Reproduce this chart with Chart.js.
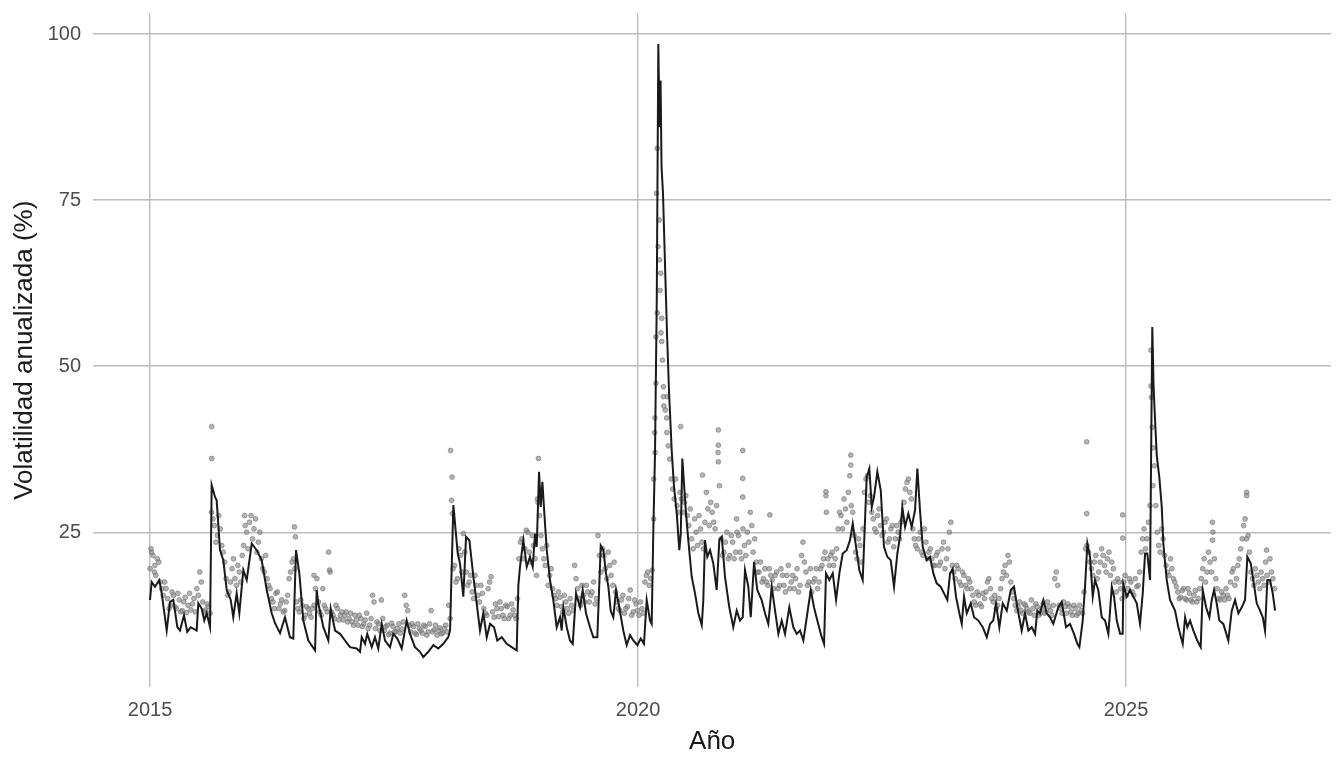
<!DOCTYPE html>
<html>
<head>
<meta charset="utf-8">
<script src="https://cdn.jsdelivr.net/npm/chart.js@4"></script>
<style>
  html, body { margin: 0; padding: 0; background: #ffffff; }
  canvas { display: block; }
</style>
</head>
<body>
<canvas id="volChart" width="1344" height="768"></canvas>
<script>
// line: realised volatility (decimal years and %)
const lineYears = [
  2015.000, 2015.017, 2015.051, 2015.095, 2015.120, 2015.171, 2015.205, 2015.239, 2015.280, 2015.307,
  2015.348, 2015.382, 2015.417, 2015.478, 2015.495, 2015.530, 2015.556, 2015.581, 2015.615, 2015.632,
  2015.666, 2015.683, 2015.717, 2015.751, 2015.786, 2015.827, 2015.853, 2015.888, 2015.915, 2015.956,
  2015.991, 2016.042, 2016.093, 2016.144, 2016.196, 2016.247, 2016.281, 2016.332, 2016.383, 2016.434,
  2016.468, 2016.496, 2016.530, 2016.571, 2016.622, 2016.691, 2016.708, 2016.724, 2016.776, 2016.827,
  2016.851, 2016.896, 2016.947, 2016.998, 2017.049, 2017.118, 2017.152, 2017.169, 2017.203, 2017.226,
  2017.272, 2017.305, 2017.339, 2017.374, 2017.408, 2017.459, 2017.493, 2017.534, 2017.579, 2017.630,
  2017.664, 2017.715, 2017.766, 2017.800, 2017.851, 2017.903, 2017.954, 2018.005, 2018.056, 2018.074,
  2018.108, 2018.125, 2018.153, 2018.176, 2018.210, 2018.238, 2018.272, 2018.313, 2018.347, 2018.381,
  2018.415, 2018.450, 2018.484, 2018.525, 2018.558, 2018.604, 2018.655, 2018.706, 2018.757, 2018.774,
  2018.791, 2018.825, 2018.860, 2018.893, 2018.921, 2018.945, 2018.962, 2018.986, 2019.003, 2019.020,
  2019.047, 2019.065, 2019.098, 2019.132, 2019.167, 2019.201, 2019.218, 2019.235, 2019.270, 2019.303,
  2019.331, 2019.365, 2019.406, 2019.433, 2019.467, 2019.508, 2019.542, 2019.583, 2019.618, 2019.645,
  2019.672, 2019.696, 2019.720, 2019.747, 2019.775, 2019.808, 2019.849, 2019.884, 2019.918, 2019.952,
  2019.993, 2020.028, 2020.061, 2020.089, 2020.123, 2020.140, 2020.157, 2020.174, 2020.192, 2020.208,
  2020.220, 2020.231, 2020.241, 2020.256, 2020.277, 2020.297, 2020.318, 2020.328, 2020.345, 2020.369,
  2020.397, 2020.423, 2020.438, 2020.454, 2020.471, 2020.492, 2020.515, 2020.550, 2020.584, 2020.618,
  2020.653, 2020.669, 2020.686, 2020.710, 2020.738, 2020.771, 2020.806, 2020.833, 2020.858, 2020.891,
  2020.935, 2020.976, 2021.011, 2021.045, 2021.073, 2021.096, 2021.130, 2021.155, 2021.189, 2021.222,
  2021.267, 2021.301, 2021.335, 2021.370, 2021.404, 2021.438, 2021.472, 2021.506, 2021.550, 2021.591,
  2021.626, 2021.660, 2021.694, 2021.735, 2021.770, 2021.803, 2021.837, 2021.882, 2021.906, 2021.926,
  2021.960, 2021.995, 2022.029, 2022.063, 2022.097, 2022.138, 2022.172, 2022.200, 2022.234, 2022.267,
  2022.302, 2022.343, 2022.370, 2022.395, 2022.418, 2022.452, 2022.487, 2022.520, 2022.554, 2022.589,
  2022.623, 2022.657, 2022.684, 2022.708, 2022.736, 2022.770, 2022.804, 2022.838, 2022.862, 2022.889,
  2022.917, 2022.958, 2022.992, 2023.026, 2023.060, 2023.101, 2023.135, 2023.169, 2023.197, 2023.224,
  2023.258, 2023.292, 2023.317, 2023.340, 2023.368, 2023.409, 2023.443, 2023.487, 2023.532, 2023.573,
  2023.607, 2023.640, 2023.668, 2023.702, 2023.737, 2023.778, 2023.819, 2023.852, 2023.886, 2023.931,
  2023.965, 2023.999, 2024.034, 2024.068, 2024.091, 2024.119, 2024.153, 2024.188, 2024.221, 2024.255,
  2024.306, 2024.341, 2024.385, 2024.426, 2024.467, 2024.501, 2024.522, 2024.556, 2024.580, 2024.604,
  2024.631, 2024.659, 2024.682, 2024.716, 2024.751, 2024.785, 2024.819, 2024.854, 2024.877, 2024.905,
  2024.939, 2024.966, 2024.972, 2025.007, 2025.041, 2025.075, 2025.110, 2025.143, 2025.171, 2025.195,
  2025.218, 2025.246, 2025.256, 2025.269, 2025.282, 2025.297, 2025.315, 2025.341, 2025.366, 2025.382,
  2025.417, 2025.451, 2025.502, 2025.536, 2025.581, 2025.605, 2025.628, 2025.656, 2025.690, 2025.730,
  2025.765, 2025.786, 2025.820, 2025.854, 2025.878, 2025.902, 2025.929, 2025.956, 2025.997, 2026.048,
  2026.083, 2026.117, 2026.151, 2026.186, 2026.219, 2026.243, 2026.278, 2026.304, 2026.339, 2026.373,
  2026.401, 2026.424, 2026.448, 2026.475, 2026.503, 2026.527
];
const lineVols = [
  14.8, 17.5, 16.8, 17.8, 15.8, 10.2, 14.5, 14.8, 10.7, 10.2,
  12.5, 10.0, 10.7, 10.2, 14.3, 13.5, 11.7, 12.8, 10.7, 32.1,
  30.3, 29.8, 22.3, 20.8, 16.3, 14.8, 12.2, 15.8, 12.8, 19.3,
  17.8, 23.3, 22.3, 20.8, 16.3, 12.8, 11.3, 9.8, 12.2, 9.2,
  9.0, 22.3, 18.8, 11.7, 8.7, 7.2, 16.3, 14.3, 10.7, 8.7,
  13.5, 10.2, 9.7, 8.7, 7.7, 7.5, 7.0, 9.2, 8.2, 9.7,
  7.7, 9.2, 7.5, 11.2, 8.7, 7.7, 9.7, 9.0, 7.5, 11.7,
  9.7, 7.7, 7.0, 6.2, 7.0, 8.0, 7.5, 8.2, 9.2, 10.2,
  29.1, 26.3, 21.8, 20.3, 15.3, 24.3, 23.8, 18.3, 14.3, 10.2,
  12.8, 9.2, 11.2, 10.7, 8.7, 9.2, 8.2, 7.7, 7.2, 17.0,
  19.8, 23.8, 19.8, 21.3, 19.8, 24.8, 22.8, 34.1, 28.8, 32.6,
  26.3, 22.3, 17.8, 14.8, 10.7, 12.2, 10.2, 13.7, 10.7, 8.7,
  8.2, 15.8, 13.7, 16.3, 12.8, 10.7, 9.2, 9.2, 23.0, 22.3,
  18.8, 16.8, 13.2, 12.2, 16.3, 13.7, 10.2, 8.0, 9.5, 8.7,
  8.0, 9.0, 8.2, 14.8, 11.7, 11.2, 25.3, 36.8, 60.0, 98.5,
  86.0, 93.0, 80.0, 76.0, 65.0, 55.0, 46.0, 42.9, 37.3, 31.8,
  27.8, 22.3, 24.8, 36.1, 32.3, 27.8, 23.8, 18.3, 15.8, 12.8,
  11.0, 14.8, 23.8, 21.3, 22.3, 20.3, 16.3, 23.8, 24.3, 18.3,
  13.7, 10.7, 13.2, 11.7, 12.2, 19.3, 16.8, 12.2, 20.5, 16.3,
  14.8, 12.8, 11.2, 16.8, 13.2, 9.7, 11.7, 9.7, 13.7, 10.7,
  9.7, 10.2, 8.7, 12.8, 16.3, 13.7, 11.7, 9.2, 8.2, 18.8,
  17.8, 18.8, 14.8, 18.8, 21.8, 22.3, 23.8, 26.3, 22.8, 19.3,
  17.8, 33.3, 34.6, 28.8, 30.3, 34.1, 31.3, 22.8, 21.3, 20.8,
  16.8, 21.8, 24.3, 28.8, 25.8, 27.8, 25.8, 28.3, 34.6, 28.3,
  22.8, 20.8, 21.3, 18.8, 17.3, 16.8, 15.8, 14.8, 18.8, 19.5,
  15.3, 12.8, 11.2, 15.3, 12.8, 14.3, 12.2, 11.7, 10.7, 9.2,
  11.2, 11.7, 14.3, 10.7, 14.3, 13.2, 16.3, 16.8, 13.7, 10.2,
  12.8, 10.2, 10.7, 9.7, 13.2, 12.8, 14.8, 12.8, 12.2, 11.2,
  13.7, 14.5, 10.7, 11.2, 9.7, 8.2, 7.7, 11.7, 16.8, 23.3,
  21.3, 15.3, 17.8, 16.3, 12.2, 11.7, 9.7, 16.8, 15.3, 11.7,
  9.7, 9.7, 17.2, 15.3, 16.3, 15.3, 14.3, 11.2, 15.8, 21.8,
  21.8, 17.8, 35.0, 55.9, 47.0, 42.0, 36.5, 33.3, 28.8, 23.3,
  17.8, 14.8, 13.2, 10.7, 8.2, 12.2, 10.7, 11.7, 10.2, 8.7,
  7.7, 16.3, 13.7, 12.2, 14.8, 16.3, 14.3, 11.7, 11.2, 8.7,
  13.2, 14.8, 12.8, 13.7, 14.8, 21.3, 20.3, 17.8, 14.3, 13.2,
  12.2, 10.2, 17.8, 17.8, 15.8, 13.2
];

// points: implied volatility, first reading of the band
const dotYears = [
  2015.00, 2015.03, 2015.06, 2015.09, 2015.12, 2015.15, 2015.18, 2015.21, 2015.24, 2015.27,
  2015.30, 2015.33, 2015.36, 2015.39, 2015.42, 2015.45, 2015.48, 2015.51, 2015.54, 2015.57,
  2015.60, 2015.63, 2015.66, 2015.69, 2015.72, 2015.75, 2015.78, 2015.81, 2015.84, 2015.87,
  2015.90, 2015.93, 2015.96, 2015.99, 2016.02, 2016.05, 2016.08, 2016.11, 2016.14, 2016.17,
  2016.20, 2016.23, 2016.26, 2016.29, 2016.32, 2016.35, 2016.38, 2016.41, 2016.44, 2016.47,
  2016.50, 2016.53, 2016.56, 2016.59, 2016.62, 2016.65, 2016.68, 2016.71, 2016.74, 2016.77,
  2016.80, 2016.83, 2016.86, 2016.89, 2016.92, 2016.95, 2016.98, 2017.01, 2017.04, 2017.07,
  2017.10, 2017.13, 2017.16, 2017.19, 2017.22, 2017.25, 2017.28, 2017.31, 2017.34, 2017.37,
  2017.40, 2017.43, 2017.46, 2017.49, 2017.52, 2017.55, 2017.58, 2017.61, 2017.64, 2017.67,
  2017.70, 2017.73, 2017.76, 2017.79, 2017.82, 2017.85, 2017.88, 2017.91, 2017.94, 2017.97,
  2018.00, 2018.03, 2018.06, 2018.09, 2018.12, 2018.15, 2018.18, 2018.21, 2018.24, 2018.27,
  2018.30, 2018.33, 2018.36, 2018.39, 2018.42, 2018.45, 2018.48, 2018.51, 2018.54, 2018.57,
  2018.60, 2018.63, 2018.66, 2018.69, 2018.72, 2018.75, 2018.78, 2018.81, 2018.84, 2018.87,
  2018.90, 2018.93, 2018.96, 2018.99, 2019.02, 2019.05, 2019.08, 2019.11, 2019.14, 2019.17,
  2019.20, 2019.23, 2019.26, 2019.29, 2019.32, 2019.35, 2019.38, 2019.41, 2019.44, 2019.47,
  2019.50, 2019.53, 2019.56, 2019.59, 2019.62, 2019.65, 2019.68, 2019.71, 2019.74, 2019.77,
  2019.80, 2019.83, 2019.86, 2019.89, 2019.92, 2019.95, 2019.98, 2020.01, 2020.04, 2020.07,
  2020.10, 2020.13, 2020.16, 2020.19, 2020.22, 2020.25, 2020.28, 2020.31, 2020.34, 2020.37,
  2020.40, 2020.43, 2020.46, 2020.49, 2020.52, 2020.55, 2020.58, 2020.61, 2020.64, 2020.67,
  2020.70, 2020.73, 2020.76, 2020.79, 2020.82, 2020.85, 2020.88, 2020.91, 2020.94, 2020.97,
  2021.00, 2021.03, 2021.06, 2021.09, 2021.12, 2021.15, 2021.18, 2021.21, 2021.24, 2021.27,
  2021.30, 2021.33, 2021.36, 2021.39, 2021.42, 2021.45, 2021.48, 2021.51, 2021.54, 2021.57,
  2021.60, 2021.63, 2021.66, 2021.69, 2021.72, 2021.75, 2021.78, 2021.81, 2021.84, 2021.87,
  2021.90, 2021.93, 2021.96, 2021.99, 2022.02, 2022.05, 2022.08, 2022.11, 2022.14, 2022.17,
  2022.20, 2022.23, 2022.26, 2022.29, 2022.32, 2022.35, 2022.38, 2022.41, 2022.44, 2022.47,
  2022.50, 2022.53, 2022.56, 2022.59, 2022.62, 2022.65, 2022.68, 2022.71, 2022.74, 2022.77,
  2022.80, 2022.83, 2022.86, 2022.89, 2022.92, 2022.95, 2022.98, 2023.01, 2023.04, 2023.07,
  2023.10, 2023.13, 2023.16, 2023.19, 2023.22, 2023.25, 2023.28, 2023.31, 2023.34, 2023.37,
  2023.40, 2023.43, 2023.46, 2023.49, 2023.52, 2023.55, 2023.58, 2023.61, 2023.64, 2023.67,
  2023.70, 2023.73, 2023.76, 2023.79, 2023.82, 2023.85, 2023.88, 2023.91, 2023.94, 2023.97,
  2024.00, 2024.03, 2024.06, 2024.09, 2024.12, 2024.15, 2024.18, 2024.21, 2024.24, 2024.27,
  2024.30, 2024.33, 2024.36, 2024.39, 2024.42, 2024.45, 2024.48, 2024.51, 2024.54, 2024.57,
  2024.60, 2024.63, 2024.66, 2024.69, 2024.72, 2024.75, 2024.78, 2024.81, 2024.84, 2024.87,
  2024.90, 2024.93, 2024.96, 2024.99, 2025.02, 2025.05, 2025.08, 2025.11, 2025.14, 2025.17,
  2025.20, 2025.23, 2025.26, 2025.29, 2025.32, 2025.35, 2025.38, 2025.41, 2025.44, 2025.47,
  2025.50, 2025.53, 2025.56, 2025.59, 2025.62, 2025.65, 2025.68, 2025.71, 2025.74, 2025.77,
  2025.80, 2025.83, 2025.86, 2025.89, 2025.92, 2025.95, 2025.98, 2026.01, 2026.04, 2026.07,
  2026.10, 2026.13, 2026.16, 2026.19, 2026.22, 2026.25, 2026.28, 2026.31, 2026.34, 2026.37,
  2026.40, 2026.43, 2026.46, 2026.49, 2026.52
];
const dotVols = [
  19.5, 21.5, 18.5, 20.5, 16.5, 17.5, 15.0, 14.0, 15.5, 13.5,
  14.8, 13.2, 15.2, 14.0, 13.3, 15.0, 16.5, 19.0, 14.5, 13.3,
  13.8, 28.0, 26.0, 24.5, 25.5, 22.0, 18.0, 16.0, 19.5, 18.0,
  20.0, 17.5, 23.0, 25.0, 26.5, 24.0, 27.0, 23.5, 21.0, 19.0,
  18.0, 16.5, 14.5, 15.8, 13.5, 14.8, 13.2, 15.5, 19.0, 21.0,
  14.5, 13.0, 14.0, 12.5, 13.5, 12.2, 14.0, 18.0, 13.0, 16.5,
  13.5, 22.0, 13.0, 12.0, 13.5, 12.5, 11.8, 13.0, 12.0, 11.5,
  12.5, 11.0, 12.0, 11.2, 12.8, 11.0, 15.5, 10.5, 11.2, 14.8,
  10.2, 11.0, 9.8, 10.8, 10.0, 11.2, 10.4, 15.5, 13.2, 10.0,
  10.8, 9.6, 10.5, 9.8, 10.8, 10.0, 13.2, 10.3, 9.5, 10.6,
  9.8, 11.0, 14.0, 29.8, 20.0, 18.0, 21.5, 24.8, 19.0, 17.5,
  16.0, 18.5, 15.5, 17.0, 13.5, 12.5, 17.5, 13.0, 14.2, 12.3,
  13.5, 12.0, 13.8, 12.5, 13.3, 12.0, 21.0, 24.0, 22.5, 25.0,
  20.5, 23.0, 18.5, 27.5, 22.5, 20.0, 17.0, 19.5, 15.5, 14.0,
  15.2, 13.0, 14.5, 12.8, 14.0, 20.0, 16.5, 14.0, 15.5, 17.0,
  14.5, 16.0, 14.2, 24.5, 19.0, 21.5, 18.0, 20.0, 17.0, 16.0,
  13.5, 14.8, 12.8, 13.8, 16.3, 13.0, 14.2, 12.5, 13.5, 17.5,
  19.0, 18.0, 33.0, 76.0, 66.0, 50.9, 43.4, 38.0, 33.0, 30.0,
  29.0, 31.0, 28.0, 30.5, 26.0, 24.0, 27.0, 23.0, 25.5, 22.5,
  31.0, 26.0, 28.0, 25.5, 37.0, 24.0, 22.0, 25.0, 21.5, 23.5,
  22.0, 24.5, 21.0, 23.0, 25.0, 28.0, 22.0, 20.5, 19.0, 17.5,
  19.5, 17.0, 18.5, 16.5, 19.0, 17.0, 18.5, 16.0, 20.0, 17.5,
  16.5, 19.5, 17.0, 23.5, 19.0, 17.5, 16.0, 18.0, 16.5, 19.5,
  21.0, 28.0, 20.0, 22.0, 21.0, 25.5, 27.5, 30.0, 26.5, 33.5,
  28.0, 22.0, 24.0, 20.5, 31.0, 33.5, 30.5, 27.0, 25.0, 28.5,
  24.5, 26.5, 23.5, 25.5, 22.8, 26.0, 24.0, 27.0, 31.5, 33.0,
  30.0, 24.0, 22.5, 25.0, 21.5, 23.5, 22.0, 21.0, 20.0, 22.0,
  20.5, 23.5, 21.0, 25.0, 20.0, 18.0, 19.5, 17.0, 18.5, 16.5,
  17.5, 15.5, 14.0, 15.5, 13.8, 15.0, 17.5, 16.5, 14.5, 13.5,
  15.0, 18.0, 20.0, 21.5, 17.5, 15.0, 13.2, 14.5, 12.8, 14.0,
  13.0, 14.8, 12.5, 13.8, 12.8, 14.2, 13.0, 13.8, 12.5, 18.0,
  17.0, 13.5, 14.5, 12.8, 13.8, 12.5, 13.5, 12.8, 13.2, 16.0,
  23.0, 20.5, 18.5, 21.5, 19.0, 22.5, 20.0, 21.0, 18.5, 19.5,
  16.0, 17.5, 15.0, 18.5, 16.5, 17.5, 15.5, 16.8, 19.0, 24.0,
  22.5, 26.5, 45.3, 35.0, 25.0, 22.0, 24.0, 20.0, 18.5, 19.5,
  17.5, 16.0, 15.2, 16.5, 14.8, 15.8, 14.5, 16.2, 15.0, 18.0,
  21.0, 19.0, 20.5, 25.0, 18.0, 15.0, 16.0, 14.8, 15.5, 17.5,
  19.5, 18.0, 21.0, 24.0, 27.0, 24.5, 19.0, 17.0, 18.5, 16.5,
  18.0, 20.5, 17.5, 19.0, 16.5
];

// points: implied volatility, second reading of the band (between the first ones)
const dotYears2 = [
  2015.015, 2015.045, 2015.075, 2015.105, 2015.135, 2015.165, 2015.195, 2015.225, 2015.255, 2015.285,
  2015.315, 2015.345, 2015.375, 2015.405, 2015.435, 2015.465, 2015.495, 2015.525, 2015.555, 2015.585,
  2015.615, 2015.645, 2015.675, 2015.705, 2015.735, 2015.765, 2015.795, 2015.825, 2015.855, 2015.885,
  2015.915, 2015.945, 2015.975, 2016.005, 2016.035, 2016.065, 2016.095, 2016.125, 2016.155, 2016.185,
  2016.215, 2016.245, 2016.275, 2016.305, 2016.335, 2016.365, 2016.395, 2016.425, 2016.455, 2016.485,
  2016.515, 2016.545, 2016.575, 2016.605, 2016.635, 2016.665, 2016.695, 2016.725, 2016.755, 2016.785,
  2016.815, 2016.845, 2016.875, 2016.905, 2016.935, 2016.965, 2016.995, 2017.025, 2017.055, 2017.085,
  2017.115, 2017.145, 2017.175, 2017.205, 2017.235, 2017.265, 2017.295, 2017.325, 2017.355, 2017.385,
  2017.415, 2017.445, 2017.475, 2017.505, 2017.535, 2017.565, 2017.595, 2017.625, 2017.655, 2017.685,
  2017.715, 2017.745, 2017.775, 2017.805, 2017.835, 2017.865, 2017.895, 2017.925, 2017.955, 2017.985,
  2018.015, 2018.045, 2018.075, 2018.105, 2018.135, 2018.165, 2018.195, 2018.225, 2018.255, 2018.285,
  2018.315, 2018.345, 2018.375, 2018.405, 2018.435, 2018.465, 2018.495, 2018.525, 2018.555, 2018.585,
  2018.615, 2018.645, 2018.675, 2018.705, 2018.735, 2018.765, 2018.795, 2018.825, 2018.855, 2018.885,
  2018.915, 2018.945, 2018.975, 2019.005, 2019.035, 2019.065, 2019.095, 2019.125, 2019.155, 2019.185,
  2019.215, 2019.245, 2019.275, 2019.305, 2019.335, 2019.365, 2019.395, 2019.425, 2019.455, 2019.485,
  2019.515, 2019.545, 2019.575, 2019.605, 2019.635, 2019.665, 2019.695, 2019.725, 2019.755, 2019.785,
  2019.815, 2019.845, 2019.875, 2019.905, 2019.935, 2019.965, 2019.995, 2020.025, 2020.055, 2020.085,
  2020.115, 2020.145, 2020.175, 2020.205, 2020.235, 2020.265, 2020.295, 2020.325, 2020.355, 2020.385,
  2020.415, 2020.445, 2020.475, 2020.505, 2020.535, 2020.565, 2020.595, 2020.625, 2020.655, 2020.685,
  2020.715, 2020.745, 2020.775, 2020.805, 2020.835, 2020.865, 2020.895, 2020.925, 2020.955, 2020.985,
  2021.015, 2021.045, 2021.075, 2021.105, 2021.135, 2021.165, 2021.195, 2021.225, 2021.255, 2021.285,
  2021.315, 2021.345, 2021.375, 2021.405, 2021.435, 2021.465, 2021.495, 2021.525, 2021.555, 2021.585,
  2021.615, 2021.645, 2021.675, 2021.705, 2021.735, 2021.765, 2021.795, 2021.825, 2021.855, 2021.885,
  2021.915, 2021.945, 2021.975, 2022.005, 2022.035, 2022.065, 2022.095, 2022.125, 2022.155, 2022.185,
  2022.215, 2022.245, 2022.275, 2022.305, 2022.335, 2022.365, 2022.395, 2022.425, 2022.455, 2022.485,
  2022.515, 2022.545, 2022.575, 2022.605, 2022.635, 2022.665, 2022.695, 2022.725, 2022.755, 2022.785,
  2022.815, 2022.845, 2022.875, 2022.905, 2022.935, 2022.965, 2022.995, 2023.025, 2023.055, 2023.085,
  2023.115, 2023.145, 2023.175, 2023.205, 2023.235, 2023.265, 2023.295, 2023.325, 2023.355, 2023.385,
  2023.415, 2023.445, 2023.475, 2023.505, 2023.535, 2023.565, 2023.595, 2023.625, 2023.655, 2023.685,
  2023.715, 2023.745, 2023.775, 2023.805, 2023.835, 2023.865, 2023.895, 2023.925, 2023.955, 2023.985,
  2024.015, 2024.045, 2024.075, 2024.105, 2024.135, 2024.165, 2024.195, 2024.225, 2024.255, 2024.285,
  2024.315, 2024.345, 2024.375, 2024.405, 2024.435, 2024.465, 2024.495, 2024.525, 2024.555, 2024.585,
  2024.615, 2024.645, 2024.675, 2024.705, 2024.735, 2024.765, 2024.795, 2024.825, 2024.855, 2024.885,
  2024.915, 2024.945, 2024.975, 2025.005, 2025.035, 2025.065, 2025.095, 2025.125, 2025.155, 2025.185,
  2025.215, 2025.245, 2025.275, 2025.305, 2025.335, 2025.365, 2025.395, 2025.425, 2025.455, 2025.485,
  2025.515, 2025.545, 2025.575, 2025.605, 2025.635, 2025.665, 2025.695, 2025.725, 2025.755, 2025.785,
  2025.815, 2025.845, 2025.875, 2025.905, 2025.935, 2025.965, 2025.995, 2026.025, 2026.055, 2026.085,
  2026.115, 2026.145, 2026.175, 2026.205, 2026.235, 2026.265, 2026.295, 2026.325, 2026.355, 2026.385,
  2026.415, 2026.445, 2026.475, 2026.505
];
const dotVols2 = [
  22.0, 19.0, 21.0, 17.5, 15.5, 16.5, 13.5, 16.0, 13.8, 15.8,
  13.0, 14.5, 12.9, 15.8, 14.2, 13.0, 15.5, 17.5, 13.0, 14.2,
  12.8, 27.0, 23.5, 27.5, 23.0, 20.5, 15.5, 17.5, 21.0, 17.0,
  19.0, 21.5, 26.0, 22.5, 27.5, 25.5, 22.0, 25.0, 19.5, 21.5,
  17.0, 15.0, 13.5, 16.0, 14.2, 13.0, 14.5, 18.0, 20.5, 19.5,
  13.5, 14.8, 12.0, 13.8, 12.8, 13.5, 16.5, 14.5, 12.5, 14.0,
  13.0, 19.0, 12.5, 14.0, 11.8, 13.0, 12.5, 11.5, 12.8, 11.0,
  11.8, 12.5, 10.8, 11.8, 10.5, 12.0, 14.5, 11.5, 10.2, 12.0,
  10.8, 9.6, 11.3, 10.0, 10.5, 9.8, 11.5, 14.0, 11.0, 11.2,
  9.8, 11.2, 10.2, 11.0, 9.5, 11.2, 10.0, 11.0, 10.2, 9.7,
  10.5, 10.0, 12.0, 19.5, 17.5, 22.5, 19.0, 22.0, 17.0, 18.5,
  15.0, 17.0, 14.5, 15.8, 12.8, 16.5, 18.3, 12.2, 13.5, 14.5,
  12.5, 14.0, 12.0, 14.2, 12.5, 15.0, 23.5, 21.0, 25.3, 22.0,
  24.5, 21.0, 29.5, 24.5, 21.0, 23.0, 18.5, 16.5, 15.0, 16.0,
  13.8, 15.5, 13.5, 15.0, 13.2, 18.0, 15.0, 17.0, 14.5, 16.0,
  15.5, 17.5, 15.0, 21.5, 22.5, 19.5, 22.0, 18.5, 20.5, 14.5,
  13.2, 15.5, 13.5, 15.0, 12.5, 14.8, 13.2, 14.5, 12.8, 18.5,
  17.0, 19.3, 37.0, 68.0, 55.0, 44.0, 40.0, 36.0, 31.5, 33.0,
  28.0, 30.0, 29.5, 27.5, 28.5, 22.5, 25.0, 27.5, 23.5, 26.5,
  28.5, 29.5, 26.5, 29.0, 32.0, 21.5, 23.5, 21.0, 24.5, 21.0,
  25.0, 22.0, 25.5, 21.5, 23.5, 26.0, 24.0, 19.0, 20.5, 18.0,
  17.5, 19.5, 17.8, 18.5, 16.5, 19.5, 17.0, 18.5, 16.5, 18.5,
  18.0, 16.0, 21.5, 20.5, 17.0, 19.5, 17.5, 19.5, 17.5, 20.0,
  22.0, 21.0, 21.5, 20.0, 22.5, 28.0, 25.5, 28.5, 31.0, 29.0,
  24.5, 21.0, 23.0, 25.5, 33.0, 29.5, 28.0, 25.5, 27.5, 26.0,
  25.0, 27.0, 24.0, 26.0, 24.0, 25.0, 26.5, 29.5, 32.5, 31.0,
  25.5, 23.0, 24.0, 22.0, 25.5, 21.0, 22.5, 20.0, 21.5, 20.0,
  22.5, 19.5, 22.5, 26.5, 19.0, 20.0, 17.5, 19.0, 17.0, 18.0,
  16.5, 14.5, 16.0, 14.2, 15.8, 16.0, 18.0, 15.0, 15.5, 14.0,
  16.5, 19.0, 18.5, 20.5, 16.0, 14.0, 13.8, 13.2, 14.2, 13.5,
  12.8, 13.5, 14.2, 12.5, 13.5, 12.8, 14.5, 13.2, 14.0, 19.0,
  14.0, 12.8, 13.8, 14.2, 13.0, 14.0, 12.5, 14.0, 12.8, 22.5,
  22.0, 19.5, 20.5, 18.0, 20.5, 21.5, 19.0, 22.0, 20.5, 17.5,
  18.0, 16.5, 17.5, 15.5, 18.0, 16.0, 18.0, 17.0, 22.0, 25.5,
  24.0, 29.0, 32.0, 29.0, 23.0, 25.5, 21.5, 19.0, 21.0, 18.0,
  16.8, 15.0, 16.2, 15.0, 16.5, 14.8, 15.5, 14.5, 16.5, 19.5,
  17.5, 22.0, 19.0, 21.0, 16.5, 14.8, 15.5, 16.5, 15.0, 19.0,
  17.0, 20.0, 22.5, 26.0, 24.0, 22.0, 18.0, 19.5, 17.5, 19.0,
  17.0, 18.5, 21.0, 18.0
];

// isolated high points
const spikeYears = [
  2015.632, 2015.632, 2015.01, 2015.05, 2015.97, 2016.48, 2016.49, 2016.68, 2016.84, 2018.08,
  2018.095, 2018.10, 2018.98, 2018.97, 2020.16, 2020.17, 2020.174, 2020.184, 2020.184, 2020.197,
  2020.197, 2020.217, 2020.225, 2020.232, 2020.243, 2020.243, 2020.26, 2020.26, 2020.294, 2020.30,
  2020.437, 2020.66, 2020.823, 2020.823, 2020.823, 2021.073, 2021.073, 2021.073, 2021.01, 2021.35,
  2021.925, 2021.925, 2022.18, 2022.18, 2024.597, 2024.597, 2024.966, 2024.966, 2025.256, 2025.256,
  2025.269, 2025.28, 2025.885, 2025.885, 2026.236, 2026.236, 2026.44
];
const spikeVols = [
  40.9, 36.1, 22.5, 20.0, 27.5, 25.8, 24.3, 18.5, 19.3, 37.3,
  33.3, 27.8, 36.1, 30.0, 27.0, 40.0, 42.2, 54.4, 47.4, 82.8,
  58.0, 72.0, 61.4, 64.0, 57.2, 53.7, 46.9, 45.4, 42.2, 45.4,
  40.9, 33.6, 40.4, 38.1, 35.6, 37.3, 33.1, 30.3, 27.0, 27.6,
  31.1, 30.5, 36.6, 35.1, 38.6, 27.8, 27.6, 24.1, 52.4, 47.0,
  40.8, 37.7, 26.5, 23.8, 31.0, 30.5, 22.3
];

const xTicks = [2015, 2020, 2025];
const yTicks = [25, 50, 75, 100];

const gridColor = "#bcbcbc";
const tickColor = "#4d4d4d";
const titleColor = "#1a1a1a";
const family = "'Liberation Sans', Arial, sans-serif";

const lineData = lineYears.map((x, i) => ({ x: x, y: lineVols[i] }));
const dotData = dotYears
  .map((x, i) => ({ x: x, y: dotVols[i] }))
  .concat(dotYears2.map((x, i) => ({ x: x, y: dotVols2[i] })))
  .concat(spikeYears.map((x, i) => ({ x: x, y: spikeVols[i] })));

// keep the plot panel where it is, whatever the labels want
function noScalePadding(scale) {
  scale.paddingTop = 0;
  scale.paddingBottom = 0;
  scale.paddingLeft = 0;
  scale.paddingRight = 0;
}

const config = {
  type: "scatter",
  data: {
    datasets: [
      {
        label: "Volatilidad realizada",
        data: lineData,
        showLine: true,
        borderColor: "#1a1a1a",
        borderWidth: 2,
        pointRadius: 0,
        tension: 0,
        order: 0,
      },
      {
        label: "Volatilidad implícita",
        data: dotData,
        pointRadius: 2.4,
        backgroundColor: "rgba(130,130,130,0.6)",
        borderColor: "rgba(110,110,110,0.6)",
        borderWidth: 1,
        order: 1,
      },
    ],
  },
  options: {
    responsive: false,
    animation: false,
    devicePixelRatio: 1,
    layout: { padding: { top: 13.4, right: 13, left: 0, bottom: 0 } },
    plugins: {
      legend: { display: false },
      tooltip: { enabled: false },
    },
    scales: {
      x: {
        type: "linear",
        min: 2014.42,
        max: 2027.1,
        afterBuildTicks: (scale) => {
          scale.ticks = xTicks.map((v) => ({ value: v }));
        },
        afterFit: (scale) => {
          scale.height = 81;
          noScalePadding(scale);
        },
        grid: { color: gridColor, lineWidth: 1.4, drawTicks: false },
        border: { display: false },
        ticks: {
          padding: 11,
          color: tickColor,
          font: { family: family, size: 20 },
          callback: (v) => String(v),
        },
        title: {
          display: true,
          text: "Año",
          color: titleColor,
          font: { family: family, size: 26 },
          padding: { top: 0, bottom: 11 },
        },
      },
      y: {
        min: 1.7,
        max: 103.1,
        afterBuildTicks: (scale) => {
          scale.ticks = yTicks.map((v) => ({ value: v }));
        },
        afterFit: (scale) => {
          scale.width = 93.4;
          noScalePadding(scale);
        },
        grid: { color: gridColor, lineWidth: 1.4, drawTicks: false },
        border: { display: false },
        ticks: {
          padding: 12.4,
          color: tickColor,
          font: { family: family, size: 20 },
          callback: (v) => String(v),
        },
        title: {
          display: true,
          text: "Volatilidad anualizada (%)",
          color: titleColor,
          font: { family: family, size: 26 },
          padding: { top: 9.4, bottom: 0 },
        },
      },
    },
  },
};

new Chart(document.getElementById("volChart"), config);
</script>
</body>
</html>
